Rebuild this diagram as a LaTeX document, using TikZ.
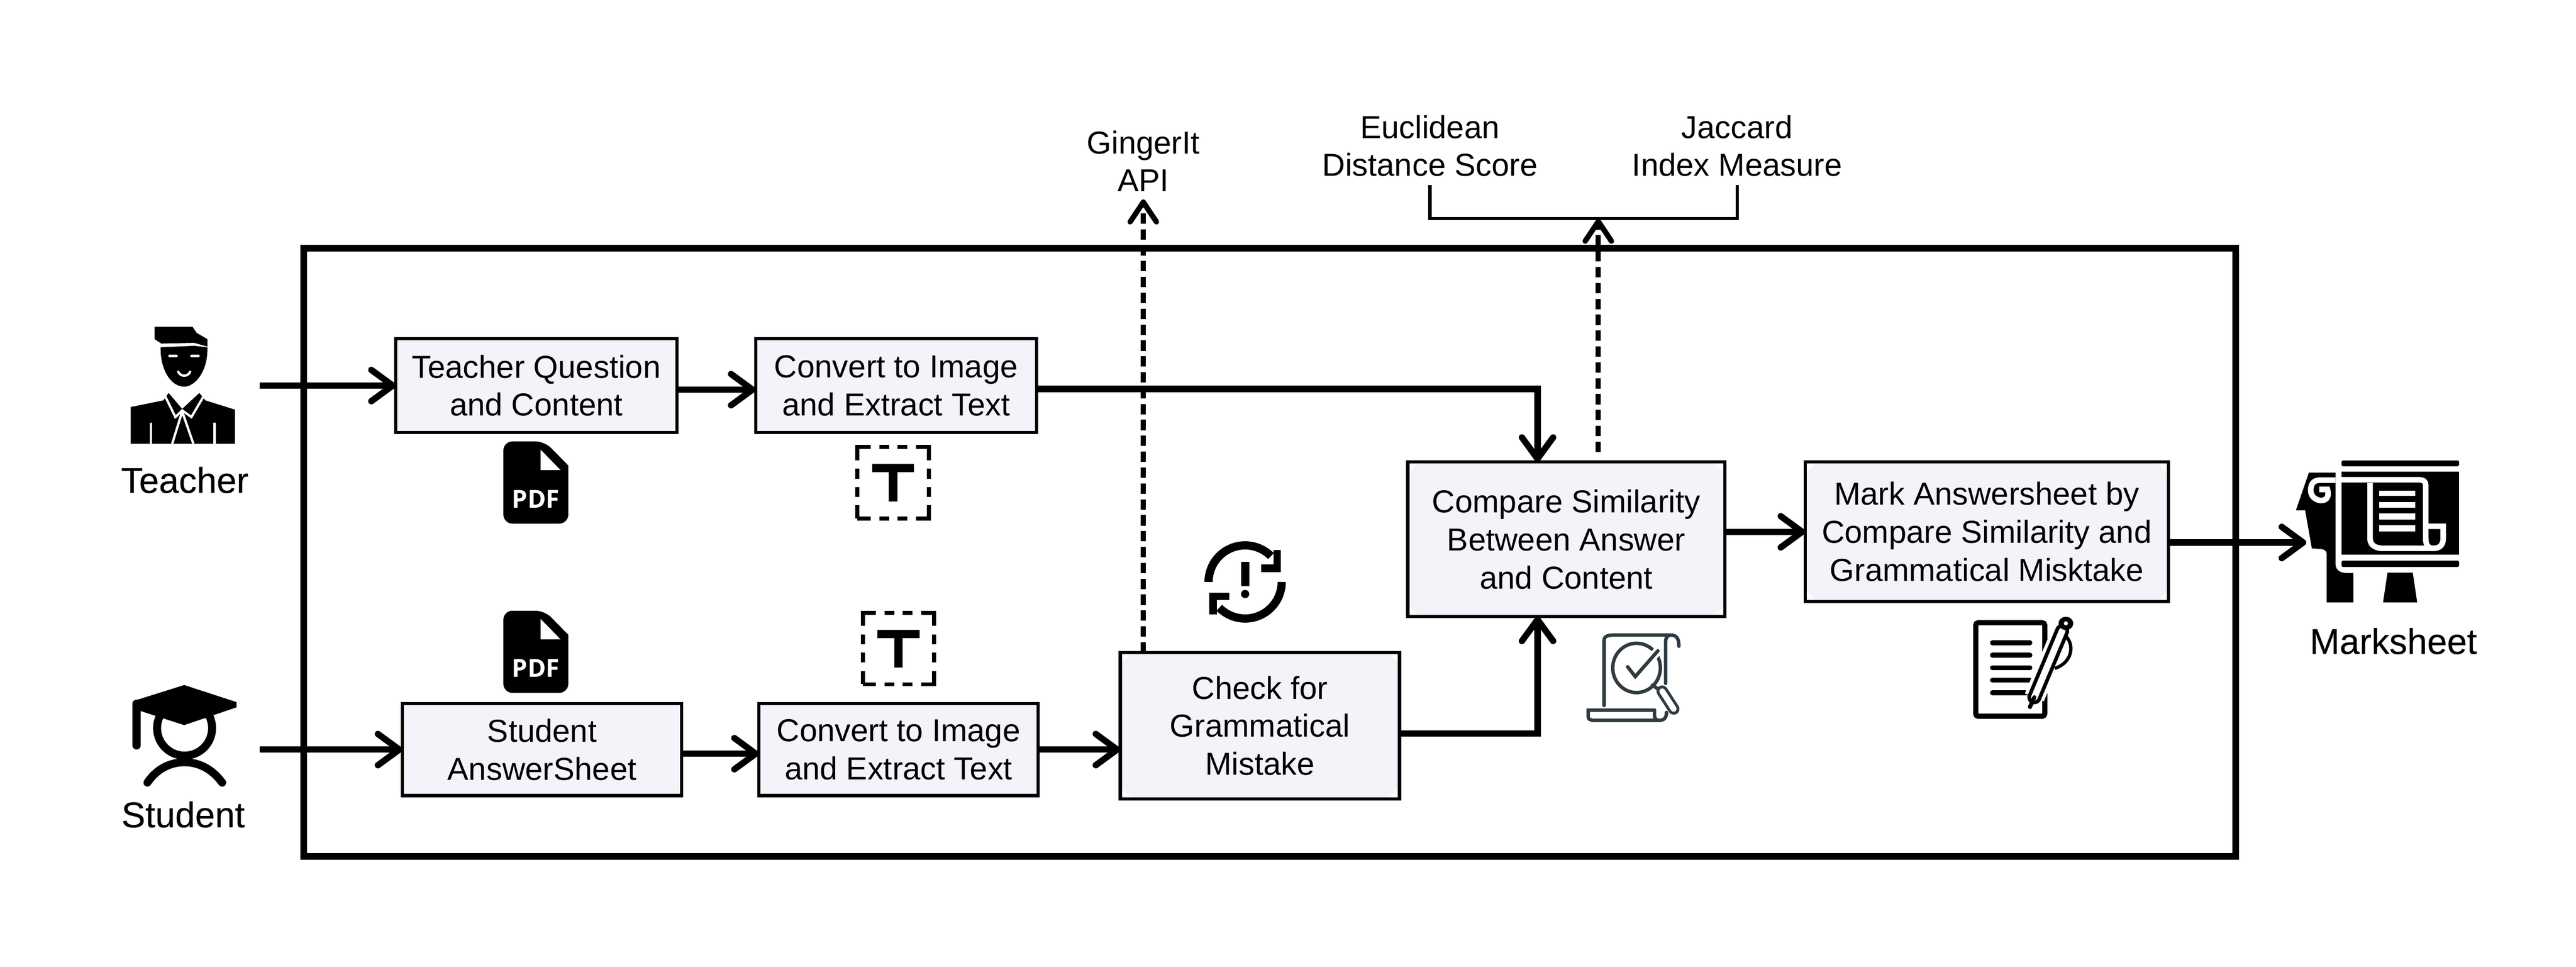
\documentclass[tikz,border=0pt]{standalone}
\usepackage{fontspec}
\setmainfont{Liberation Sans}
\newfontfamily\pdffont{Open Sans}
\newfontfamily\personfont[FakeBold=0.25]{Liberation Sans}
\usetikzlibrary{arrows.meta}
\definecolor{boxfill}{HTML}{F3F3F9}
\definecolor{scrollgray}{HTML}{2F3B40}
\tikzset{
	box/.style={draw=black, line width=1.1pt, fill=white, inner sep=0pt, outer sep=0pt, align=center,
		font=\fontsize{11}{13.2}\selectfont,
		path picture={\fill[boxfill, rounded corners=#1](path picture bounding box.south west) rectangle (path picture bounding box.north east);}},
	box/.default=0.12cm,
	label/.style={inner sep=0pt, align=center, font=\fontsize{11}{13}\selectfont},
	person/.style={inner sep=0pt, font=\personfont\fontsize{12.4}{14}\selectfont},
	conn/.style={line width=2.2pt, -{Straight Barb[length=2.6mm,width=3.8mm,round]}},
	dashconn/.style={line width=1.85pt, dash pattern=on 3.6pt off 1.9pt, -{Straight Barb[length=2.4mm,width=3.2mm,round]}},
	pdficon/.pic={
		\fill[rounded corners=0.11cm](-0.395,-0.5) -- (-0.395,0.5) -- (0.107,0.5) [sharp corners] -- (0.395,0.207) [rounded corners=0.11cm] -- (0.395,-0.5) -- cycle;
		\fill[white](0.058,0.4) -- (0.058,0.152) -- (0.3,0.152) -- cycle;
		\node[text=white, inner sep=0pt, font=\pdffont\bfseries\fontsize{8.6}{9}\selectfont] (label) at (0,-0.2) {PDF};
	},
	texticon/.pic={
		\draw[line width=1.4pt, dash pattern=on 0.32cm off 0.105cm on 0.12cm off 0.1cm on 0.12cm off 0.105cm, dash phase=0.16cm](-0.435,-0.435) rectangle (0.435,0.435);
		\fill(-0.255,0.228) rectangle (0.255,0.126);
		\fill(-0.052,0.126) rectangle (0.052,-0.23);
	}
}
\begin{document}
\begin{tikzpicture}
	\useasboundingbox (0,0) rectangle (31.364,11.762);
	%outer frame
	\draw[line width=2.3pt](3.7,1.34) rectangle (27.22,8.74);
	%process boxes
	\node[box, minimum width=3.42cm, minimum height=1.14cm] (question) at (6.53,7.07) {Teacher Question\\and Content};
	\node[box, minimum width=3.42cm, minimum height=1.14cm] (converta) at (10.91,7.07) {Convert to Image\\and Extract Text};
	\node[box, minimum width=3.4cm, minimum height=1.12cm] (answer) at (6.6,2.64) {Student\\AnswerSheet};
	\node[box, minimum width=3.4cm, minimum height=1.12cm] (convertb) at (10.94,2.64) {Convert to Image\\and Extract Text};
	\node[box=0.24cm, minimum width=3.4cm, minimum height=1.78cm] (check) at (15.34,2.93) {Check for\\Grammatical\\Mistake};
	\node[box=0.24cm, minimum width=3.86cm, minimum height=1.88cm] (compare) at (19.07,5.2) {Compare Similarity\\Between Answer\\and Content};
	\node[box=0.24cm, minimum width=4.42cm, minimum height=1.7cm] (mark) at (24.19,5.29) {Mark Answersheet by\\Compare Similarity and\\Grammatical Misktake};
	%outside labels
	\node[person] (teacher) at (2.25,5.92) {Teacher};
	\node[person] (student) at (2.23,1.85) {Student};
	\node[person] (marksheet) at (29.14,3.96) {Marksheet};
	\node[label, inner sep=0.09cm] (ginger) at (13.92,9.8) {GingerIt\\API};
	\node[label, inner sep=0.1cm] (euclid) at (17.41,9.985) {Euclidean\\Distance Score};
	\node[label, inner sep=0.1cm] (jaccard) at (21.15,9.985) {Jaccard\\Index Measure};
	%free ends
	\coordinate (teacherout) at (3.16,7.07);
	\coordinate (studentout) at (3.16,2.64);
	\coordinate (marksheetin) at (28.08,5.16);
	\coordinate (bracketmid) at (19.46,9.1);
	%connectors
	\draw[conn](teacherout) -- (question.west);
	\draw[conn]([yshift=-0.5mm]question.east) -- ([yshift=-0.5mm]converta.west);
	\draw[conn]([yshift=-0.4mm]converta.east) -| ([xshift=-3.5mm]compare.north);
	\draw[conn](studentout) -- (answer.west);
	\draw[conn]([yshift=-0.5mm]answer.east) -- ([yshift=-0.5mm]convertb.west);
	\draw[conn](convertb.east) -- (convertb.east -| check.west);
	\draw[conn]([yshift=-0.95mm]check.east) -| ([xshift=-3.5mm]compare.south);
	\draw[conn](mark.west -| compare.east) -- (mark.west);
	\draw[conn](mark.east |- marksheetin) -- (marksheetin);
	\draw[dashconn](ginger.south |- check.north) -- (ginger.south);
	\draw[dashconn](bracketmid |- 0,6.26) -- (bracketmid);
	%bracket
	\draw[line width=1.1pt](euclid.south) |- (bracketmid) -| (jaccard.south);
	%pdf and text icons
	\pic (pdfa) at (6.524,5.89) {pdficon};
	\pic (pdfb) at (6.524,3.83) {pdficon};
	\pic at (10.875,5.887) {texticon};
	\pic at (10.94,3.87) {texticon};
	%teacher and student
	\begin{scope}[shift={(1.089,8.222)}, x=0.00486cm, y=-0.004515cm]
		\fill(163,97) -- (258,97) -- (268,113) -- (295,130) -- (295,150) -- (262,140) -- (180,142) -- (163,130) -- cycle;
		\fill(178,152) -- (262,148) -- (295,152) .. controls (297,215) and (265,258) .. (237,258) .. controls (205,258) and (177,215) .. (178,152) -- cycle;
		\draw[white, line width=0.8pt, line cap=round](200,175) -- (218,175) (255,175) -- (273,175);
		\draw[white, line width=0.8pt, line cap=round](222,218) .. controls (228,232) and (246,232) .. (252,218);
		\fill(103,412) -- (103,313) -- (185,295) -- (198,275) -- (232,318) -- (275,275) -- (290,295) -- (364,320) -- (364,412) -- cycle;
		\draw[white, line width=0.8pt](190,285) -- (215,340) -- (232,322) -- (255,340) -- (285,285);
		\draw[white, line width=0.8pt](232,325) -- (207,412) (232,325) -- (260,412);
		\draw[white, line width=0.8pt](154,355) -- (154,412) (313,355) -- (313,412);
		\draw[line width=0.097cm](238,1178) circle [radius=0.335cm];
		\draw[line width=0.097cm, line cap=round](145,1325) .. controls (170,1285) and (205,1270) .. (238,1270) .. controls (270,1270) and (305,1285) .. (332,1325);
		\fill(237,1062) -- (110,1105) -- (108,1125) -- (237,1170) -- (368,1122) -- (368,1108) -- cycle;
		\draw[line width=0.097cm, line cap=round](118,1112) -- (118,1225);
	\end{scope}
	%alert cycle
	\begin{scope}[shift={(15.16,4.68)}]
		\draw[line width=0.1cm](-0.445,0) arc [start angle=180, end angle=45, radius=0.445];
		\draw[line width=0.1cm](0.445,0) arc [start angle=0, end angle=-135, radius=0.445];
		\draw[line width=0.09cm](0.39,0.389) -- (0.39,0.167) -- (0.198,0.167);
		\draw[line width=0.09cm](-0.39,-0.398) -- (-0.39,-0.175) -- (-0.193,-0.175);
		\fill(-0.05,0.242) rectangle (0.05,-0.05);
		\fill(0,-0.147) circle [radius=0.05];
	\end{scope}
	%scroll with magnifier
	\begin{scope}[shift={(13.068,5.772)}, x=0.00521cm, y=-0.00278cm, scrollgray, line width=1.2pt, line cap=round]
		\draw(1242,935) -- (1242,650) .. controls (1242,632) and (1250,626) .. (1265,626) -- (1397,626) .. controls (1412,626) and (1417,640) .. (1417,675);
		\draw(1397,626) .. controls (1388,630) and (1386,640) .. (1386,660) -- (1386,838);
		\draw(1360,955) -- (1205,955) -- (1205,985) .. controls (1205,995) and (1210,1000) .. (1220,1000) -- (1370,1000) .. controls (1382,1000) and (1388,990) .. (1388,965);
		\draw(1360,955) -- (1360,980) .. controls (1360,992) and (1365,1000) .. (1370,1000);
		\draw(1318,770) circle [x radius=0.29cm, y radius=0.3cm];
		\draw[white, line width=3pt](1315,808) -- (1368,695);
		\draw(1297,765) -- (1315,808) -- (1368,695);
		\draw(1355,845) -- (1368,862);
		\draw[line width=0.14cm](1378,872) -- (1405,950);
		\draw[white, line width=0.07cm](1378,872) -- (1405,950);
	\end{scope}
	%sheet with pen
	\begin{scope}[shift={(23.414,6.589)}, x=0.004515cm, y=-0.002605cm]
		\draw[line width=0.063cm, rounded corners=0.03cm](142,922) rectangle (328,1358);
		\draw[line width=0.06cm, line cap=round](187,1015) -- (288,1015) (187,1073) -- (288,1073) (187,1132) -- (288,1132) (187,1190) -- (288,1190) (187,1248) -- (288,1248);
		\draw[white, line width=0.25cm](300,1270) -- (375,960);
		\draw[line width=0.17cm, line cap=round](300,1270) -- (375,960);
		\draw[white, line width=0.08cm, line cap=round](300,1270) -- (375,960);
		\draw[line width=0.05cm, line cap=round](288,1315) -- (300,1270);
		\draw[line width=0.04cm](385,985) .. controls (410,1030) and (400,1110) .. (355,1135);
		\fill(385,925) circle [x radius=0.09cm, y radius=0.08cm];
		\fill[white](385,925) circle [radius=0.025cm];
	\end{scope}
	%marksheet board
	\begin{scope}[shift={(23.414,6.589)}, x=0.004515cm, y=-0.002605cm]
		\fill(1040,222) -- (1112,222) -- (1112,650) .. controls (1112,675) and (1125,690) .. (1140,690) -- (1160,690) -- (1160,827) -- (1088,827) -- (1088,600) .. controls (1088,585) and (1080,578) .. (1070,578) -- (1048,575) -- (1030,398) -- (1005,398) -- cycle;
		\draw[white, line width=0.068cm](1112,257) -- (1070,257) .. controls (1050,257) and (1045,280) .. (1045,305) .. controls (1045,340) and (1065,352) .. (1072,352) .. controls (1090,352) and (1095,330) .. (1090,300) -- (1068,300);
		\fill[rounded corners=0.02cm](1128,165) rectangle (1445,192);
		\fill(1128,217) rectangle (1445,605);
		\fill[rounded corners=0.02cm](1128,632) rectangle (1445,662);
		\fill(1252,688) -- (1320,688) -- (1332,827) -- (1240,827) -- cycle;
		\draw[white, line width=0.068cm](1128,255) -- (1335,255) .. controls (1350,255) and (1355,265) .. (1355,280) -- (1355,530) .. controls (1355,560) and (1362,575) .. (1375,575);
		\draw[white, line width=0.068cm](1205,270) -- (1205,530) .. controls (1205,560) and (1220,575) .. (1240,575) -- (1375,575) .. controls (1395,575) and (1402,555) .. (1402,530) -- (1402,472) -- (1360,472);
		\fill[white](1230,305) rectangle (1327,330);
		\fill[white](1230,360) rectangle (1327,385);
		\fill[white](1230,413) rectangle (1327,440);
		\fill[white](1230,467) rectangle (1327,495);
	\end{scope}
\end{tikzpicture}
\end{document}
